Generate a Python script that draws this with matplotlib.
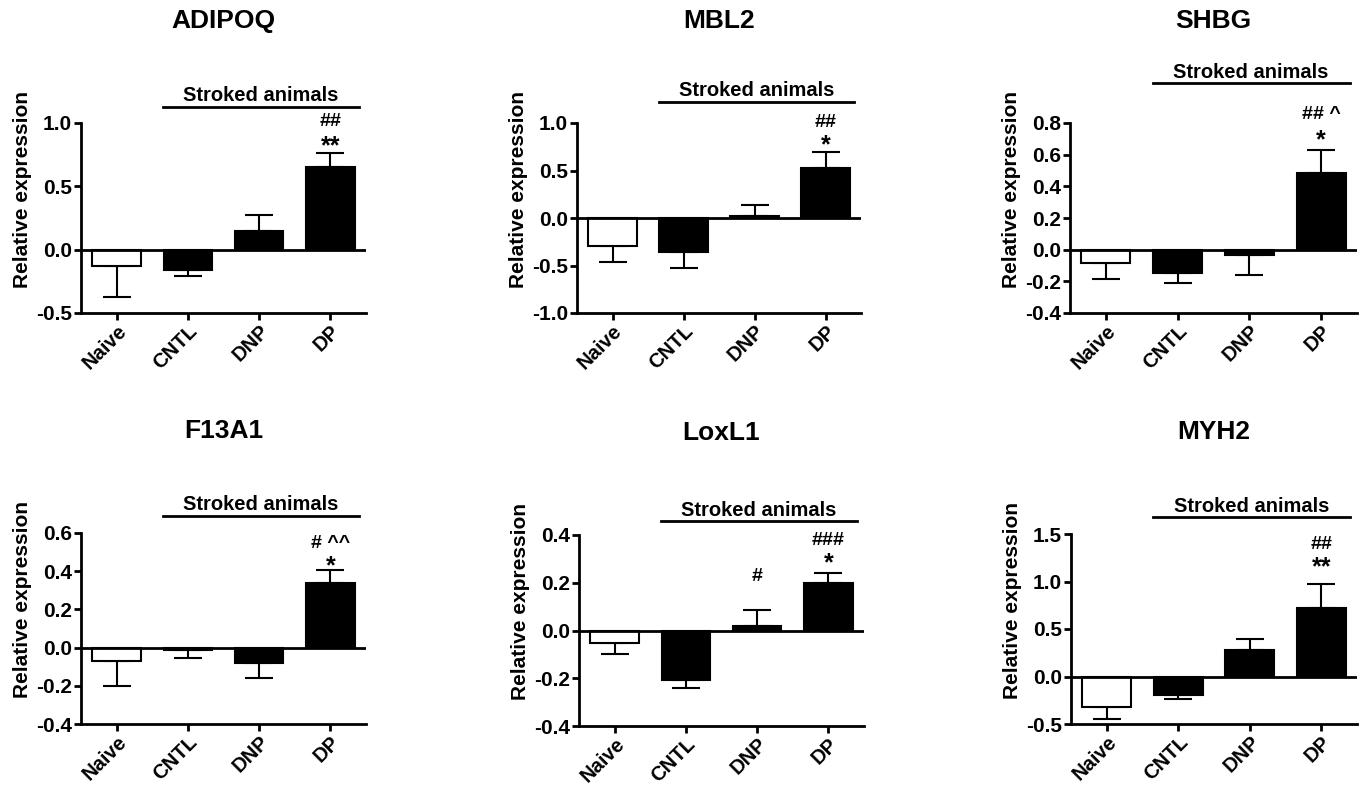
import matplotlib
matplotlib.use("Agg")
import matplotlib.pyplot as plt
import numpy as np

plt.rcParams['font.family'] = ['Liberation Sans', 'DejaVu Sans']
plt.rcParams['font.weight'] = 'bold'
plt.rcParams['axes.unicode_minus'] = False

groups = ['Naive', 'CNTL', 'DNP', 'DP']
genes = ['ADIPOQ', 'MBL2', 'SHBG', 'F13A1', 'LoxL1', 'MYH2']

# mean relative expression and SEM per group (Naive, CNTL, DNP, DP)
adipoq_mean = [-0.13, -0.16, 0.15, 0.65]
adipoq_sem = [0.24, 0.05, 0.12, 0.11]
mbl2_mean = [-0.29, -0.36, 0.02, 0.53]
mbl2_sem = [0.17, 0.17, 0.12, 0.16]
shbg_mean = [-0.085, -0.145, -0.035, 0.485]
shbg_sem = [0.10, 0.065, 0.125, 0.145]
f13a1_mean = [-0.07, -0.01, -0.08, 0.34]
f13a1_sem = [0.13, 0.045, 0.08, 0.065]
loxl1_mean = [-0.053, -0.207, 0.017, 0.20]
loxl1_sem = [0.047, 0.033, 0.07, 0.04]
myh2_mean = [-0.316, -0.19, 0.284, 0.72]
myh2_sem = [0.13, 0.05, 0.116, 0.25]

# significance marks (upper line, lower line) per group
adipoq_marks = [('', ''), ('', ''), ('', ''), ('##', '**')]
mbl2_marks = [('', ''), ('', ''), ('', ''), ('##', '*')]
shbg_marks = [('', ''), ('', ''), ('', ''), ('## ^', '*')]
f13a1_marks = [('', ''), ('', ''), ('', ''), ('# ^^', '*')]
loxl1_marks = [('', ''), ('', ''), ('#', ''), ('###', '*')]
myh2_marks = [('', ''), ('', ''), ('', ''), ('##', '**')]

y_ticks = [np.arange(-0.5, 1.01, 0.5), np.arange(-1.0, 1.01, 0.5),
           np.arange(-0.4, 0.81, 0.2), np.arange(-0.4, 0.61, 0.2),
           np.arange(-0.4, 0.41, 0.2), np.arange(-0.5, 1.51, 0.5)]

means = [adipoq_mean, mbl2_mean, shbg_mean, f13a1_mean, loxl1_mean, myh2_mean]
sems = [adipoq_sem, mbl2_sem, shbg_sem, f13a1_sem, loxl1_sem, myh2_sem]
marks = [adipoq_marks, mbl2_marks, shbg_marks, f13a1_marks, loxl1_marks, myh2_marks]

# layout (pixels): left, top, right, bottom of each plot area
W, H = 1361, 787
rects = [(81, 123, 366, 313), (577, 123, 861, 313), (1070, 123, 1357, 313),
         (81, 533, 366, 724), (579, 535, 864, 726), (1071, 534, 1357, 724)]
bracket_y = [1.084, 1.111, 1.21, 1.089, 1.073, 1.089]
mark_off = [(11, 32), (11, 30), (14, 35), (8, 27), (14, 33), (21, 40)]

fig = plt.figure(figsize=(W / 100, H / 100), dpi=100)
px2pt = 72 / 100

for i in range(6):
    l, t, r, b = rects[i]
    ax = fig.add_axes([l / W, 1 - b / H, (r - l) / W, (b - t) / H])
    x = np.arange(len(groups))
    m = np.array(means[i])
    s = np.array(sems[i])
    lower = np.where(m < 0, s, 0)
    upper = np.where(m >= 0, s, 0)
    ax.errorbar(x, m, yerr=[lower, upper], fmt='none', ecolor='black',
                elinewidth=1.5, capsize=10, capthick=1.5, zorder=1)
    ax.bar(x, m, width=0.68, color=['white', 'black', 'black', 'black'],
           edgecolor='black', linewidth=1.5, zorder=2)
    ax.axhline(0, color='black', lw=2, zorder=3)

    ax.set_xlim(-0.5, 3.5)
    ax.set_ylim(y_ticks[i][0], y_ticks[i][-1])
    ax.set_yticks(y_ticks[i])
    ax.set_yticklabels(['%.1f' % v for v in y_ticks[i]], fontsize=15, fontweight='bold')
    ax.set_xticks(x)
    ax.set_xticklabels(groups, rotation=45, ha='right', rotation_mode='anchor',
                       fontsize=14.5, fontweight='bold')
    ax.tick_params(axis='both', width=2, length=5, pad=1.5)
    ax.tick_params(axis='x', pad=1)
    for side in ['top', 'right']:
        ax.spines[side].set_visible(False)
    for side in ['left', 'bottom']:
        ax.spines[side].set_linewidth(2)
    ax.set_ylabel('Relative expression', fontsize=15, fontweight='bold')
    ax.yaxis.set_label_coords(-0.172, 0.65)

    ax.text(0.5, 1.535, genes[i], transform=ax.transAxes, ha='center', va='center',
            fontsize=19, fontweight='bold')

    # "Stroked animals" bracket
    trans = ax.get_xaxis_transform()
    ax.plot([0.65, 3.4], [bracket_y[i], bracket_y[i]], color='black', lw=2,
            transform=trans, clip_on=False)
    ax.annotate('Stroked animals', xy=(2.025, bracket_y[i]), xycoords=trans,
                xytext=(0, 4), textcoords='offset points', ha='center', va='baseline',
                fontsize=14.5, fontweight='bold')

    for j in range(4):
        up, low = marks[i][j]
        tip = m[j] + upper[j]
        if low:
            ax.annotate(low, xy=(j, tip), xytext=(0, mark_off[i][0] * px2pt - 3),
                        textcoords='offset points', ha='center', va='center',
                        fontsize=18, fontweight='bold', annotation_clip=False)
        if up:
            ax.annotate(up, xy=(j, tip), xytext=(0, mark_off[i][1] * px2pt),
                        textcoords='offset points', ha='center', va='center',
                        fontsize=14, fontweight='bold', annotation_clip=False)

fig.savefig('out.png', dpi=100)
